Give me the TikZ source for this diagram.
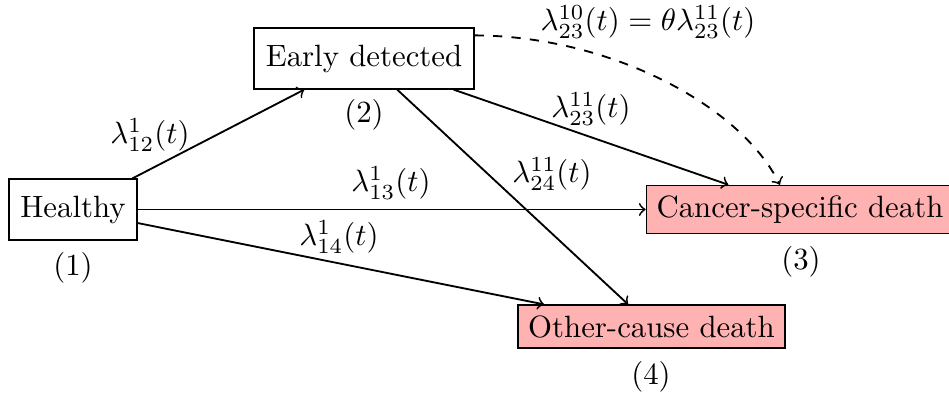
\documentclass[tikz,border=0pt]{standalone}
\usetikzlibrary{calc}
\begin{document}
\begin{tikzpicture}[x=0.3247pt,y=-0.3247pt,
  statebox/.style={draw, fill=white, inner sep=3.33pt, minimum height=19.8pt},
  deathbox/.style={draw, fill=red!30, inner sep=3.33pt},
  tr/.style={->, semithick},
  lbl/.style={inner sep=0pt}]
\useasboundingbox (0,0) rectangle (949,396);
\node[statebox, minimum width=41.6pt] (h) at (73,209.5) {Healthy};
\node[statebox, minimum width=71.4pt] (e) at (364,58.5) {Early detected};
\node[deathbox] (c) at (800,209.5) {Cancer-specific death};
\node[deathbox] (o) at (651.5,326.5) {Other-cause death};
\node[lbl] (n1) at (73,268) {(1)};
\node[lbl] (n2) at (364,115) {(2)};
\node[lbl] (n3) at (801,262) {(3)};
\node[lbl] (n4) at (651,377) {(4)};
\draw[tr] ($(h.north west)!0.96!(h.north east)$) -- ($(e.south west)!0.23!(e.south east)$);
\draw[tr] (h.east) -- (c.west);
\draw[tr] ([yshift=-4.4pt]h.east) -- ($(o.north west)!0.1!(o.north east)$);
\draw[tr] ($(e.south west)!0.905!(e.south east)$) -- ($(c.north west)!0.268!(c.north east)$);
\draw[tr] ($(e.south west)!0.65!(e.south east)$) -- ($(o.north west)!0.413!(o.north east)$);
\draw[tr, dashed] ([yshift=-2.6pt]e.north east) .. controls (610,36) and (740,105) .. ($(c.north west)!0.435!(c.north east)$);
\node[lbl] (l12) at (150,135) {$\lambda^{1}_{12}(t)$};
\node[lbl] (l13) at (391,183) {$\lambda^{1}_{13}(t)$};
\node[lbl] (l14) at (339,237) {$\lambda^{1}_{14}(t)$};
\node[lbl] (l23) at (591,109) {$\lambda^{11}_{23}(t)$};
\node[lbl] (l24) at (552,174) {$\lambda^{11}_{24}(t)$};
\node[lbl] (l23b) at (648,22) {$\lambda^{10}_{23}(t)=\theta\lambda^{11}_{23}(t)$};
\end{tikzpicture}
\end{document}
